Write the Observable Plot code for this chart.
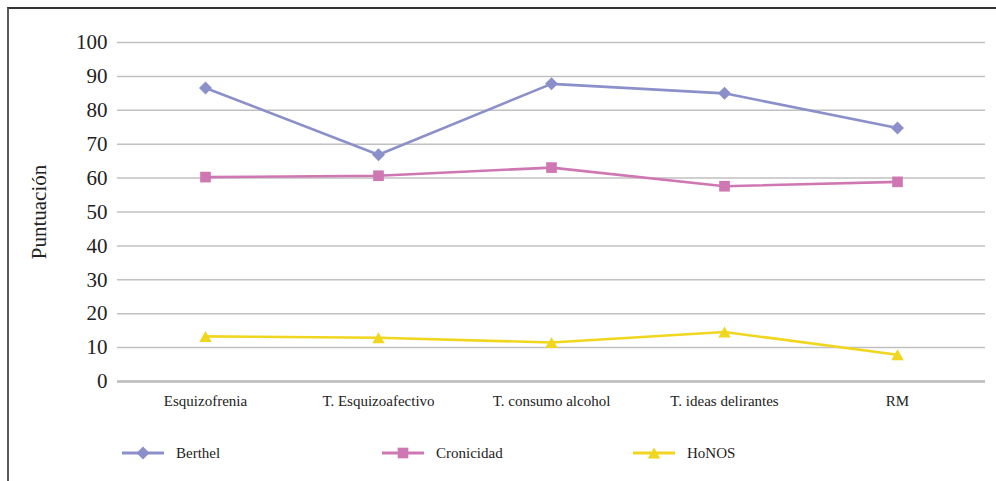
<!DOCTYPE html>
<html>
<head>
<meta charset="utf-8">
<script src="https://cdn.jsdelivr.net/npm/d3@7"></script>
<script src="https://cdn.jsdelivr.net/npm/@observablehq/plot@0.6"></script>
<style>
  body { margin: 0; background: #fff; font-family: "Liberation Serif", "Times New Roman", Tinos, "DejaVu Serif", Times, serif; }
  #wrap { position: relative; width: 996px; height: 481px; overflow: hidden; }
  #chart svg { display: block; }
  #chart svg text { font-family: "Liberation Serif", "Times New Roman", Tinos, "DejaVu Serif", Times, serif; }
  #frame { position: absolute; left: 7px; top: 7px; width: 995px; height: 480px;
           border-left: 2px solid #5a5a5a; border-top: 2px solid #333; pointer-events: none; }
  #legend { position: absolute; left: 0; top: 425px; width: 996px; height: 56px; }
  .item { position: absolute; top: 0; height: 56px; display: flex; align-items: center;
          font-size: 15px; color: #222; }
  .item svg { display: block; }
  .item span { margin-left: 12px; }
</style>
</head>
<body>
<div id="wrap">
  <div id="chart"></div>
  <div id="legend"></div>
  <div id="frame"></div>
</div>
<script>
// Diagnostic groups along the x axis
const categories = ["Esquizofrenia", "T. Esquizoafectivo", "T. consumo alcohol", "T. ideas delirantes", "RM"];

// Mean scores per group for each scale
const berthel    = [86.6, 66.9, 87.8, 85.0, 74.8];
const cronicidad = [60.3, 60.7, 63.1, 57.6, 58.9];
const honos      = [13.3, 12.9, 11.5, 14.6, 7.9];

const seriesNames = ["Berthel", "Cronicidad", "HoNOS"];
const seriesColors = ["#8b8fca", "#cf77b2", "#f0d61e"];
const yTicks = [0, 10, 20, 30, 40, 50, 60, 70, 80, 90, 100];

const serifStack = '"Liberation Serif", "Times New Roman", Tinos, "DejaVu Serif", Times, serif';

// Marker shapes (all centred on their bounding box)
const diamond = {draw(ctx, size) { const r = Math.sqrt(size / Math.PI);
  ctx.moveTo(0, -r); ctx.lineTo(r, 0); ctx.lineTo(0, r); ctx.lineTo(-r, 0); ctx.closePath(); }};
const square = {draw(ctx, size) { const r = Math.sqrt(size / Math.PI) * 0.82;
  ctx.rect(-r, -r, 2 * r, 2 * r); }};
const triangle = {draw(ctx, size) { const r = Math.sqrt(size / Math.PI);
  const w = r * 0.96, h = r * 0.85;
  ctx.moveTo(0, -h); ctx.lineTo(w, h); ctx.lineTo(-w, h); ctx.closePath(); }};
const seriesSymbols = [diamond, square, triangle];

const valuesBySeries = [berthel, cronicidad, honos];
const rows = seriesNames.flatMap((s, si) =>
  categories.map((c, ci) => ({serie: s, categoria: c, valor: valuesBySeries[si][ci]})));

const chart = Plot.plot({
  width: 996,
  height: 425,
  marginLeft: 117,
  marginRight: 11,
  marginTop: 42,
  marginBottom: 44,
  style: {fontFamily: serifStack, fontSize: "15px", color: "#222", background: "transparent"},
  x: {type: "point", domain: categories, padding: 0.5, label: null},
  y: {domain: [0, 100], label: "Puntuación"},
  color: {domain: seriesNames, range: seriesColors},
  symbol: {domain: seriesNames, range: seriesSymbols},
  marks: [
    Plot.gridY(yTicks, {stroke: "#c0c0c0", strokeOpacity: 1, strokeWidth: 1.5}),
    Plot.ruleY([0], {stroke: "#bdbdbd", strokeWidth: 2.5}),
    Plot.axisY(yTicks, {tickSize: 0, tickPadding: 10, fontSize: 21,
      label: "Puntuación", labelAnchor: "center", labelArrow: "none", labelOffset: 86}),
    Plot.axisX({tickSize: 0, tickPadding: 14, fontSize: 15, label: null}),
    Plot.line(rows, {x: "categoria", y: "valor", z: "serie", stroke: "serie", strokeWidth: 2.6}),
    Plot.dot(rows, {x: "categoria", y: "valor", fill: "serie", symbol: "serie", r: 6.5, stroke: "none"})
  ]
});
document.getElementById("chart").appendChild(chart);

// Legend row beneath the plot
const legendLeft = [122, 382, 633];
const legend = document.getElementById("legend");
seriesNames.forEach((name, i) => {
  const item = document.createElement("div");
  item.className = "item";
  item.style.left = legendLeft[i] + "px";
  const svg = d3.create("svg").attr("width", 42).attr("height", 16);
  svg.append("line").attr("x1", 0).attr("x2", 42).attr("y1", 8).attr("y2", 8)
    .attr("stroke", seriesColors[i]).attr("stroke-width", 3);
  svg.append("path").attr("transform", "translate(21,8)")
    .attr("d", d3.symbol(seriesSymbols[i], Math.PI * 6.5 * 6.5)())
    .attr("fill", seriesColors[i]);
  item.appendChild(svg.node());
  const label = document.createElement("span");
  label.textContent = name;
  item.appendChild(label);
  legend.appendChild(item);
});
</script>
</body>
</html>
